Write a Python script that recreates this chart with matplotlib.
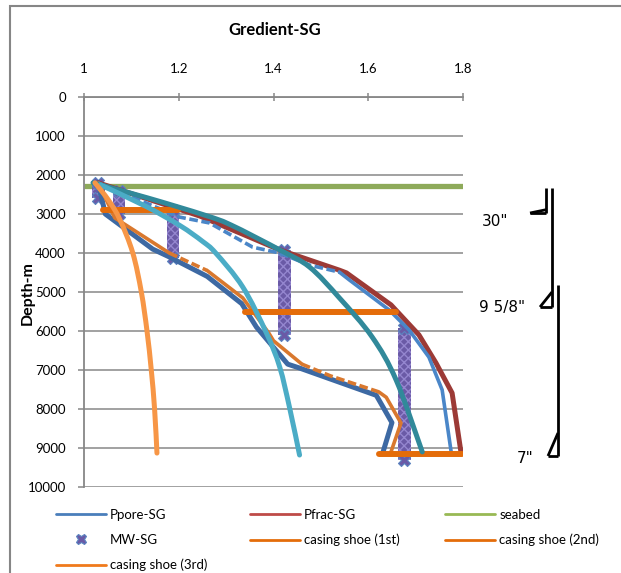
import matplotlib
matplotlib.use("Agg")
import matplotlib.pyplot as plt
from matplotlib.lines import Line2D
from matplotlib.patches import Rectangle, PathPatch
from matplotlib.path import Path

plt.rcParams['font.family'] = ['Lato', 'DejaVu Sans']
plt.rcParams['lines.solid_capstyle'] = 'round'
plt.rcParams['lines.solid_joinstyle'] = 'round'
plt.rcParams['lines.dash_capstyle'] = 'butt'

# ---- axis ticks ----
x_ticks = [1.0, 1.2, 1.4, 1.6, 1.8]
x_tick_labels = ['1', '1.2', '1.4', '1.6', '1.8']
depth_ticks = [0, 1000, 2000, 3000, 4000, 5000, 6000, 7000, 8000, 9000, 10000]

# ---- pore pressure gradient ----
ppore_depth = [2200, 3000, 3900, 4100, 4600, 5300, 5900, 6850, 6950, 7650, 8350, 9150]
ppore_sg = [1.03, 1.045, 1.145, 1.18, 1.26, 1.333, 1.364, 1.43, 1.455, 1.617, 1.65, 1.63]

# pore pressure (second estimate)
ppore2_depth = [2200, 3100, 4000, 4450, 5150, 6050, 6250, 6850, 7150, 7560, 7700, 8360, 9100]
ppore2_sg = [1.03, 1.065, 1.18, 1.26, 1.335, 1.39, 1.40, 1.46, 1.52, 1.622, 1.638, 1.669, 1.648]

# ---- fracture gradient ----
pfrac_depth = [2200, 3050, 3920, 4440, 4510, 5330, 6100, 6820, 7590, 9130]
pfrac_sg = [1.03, 1.244, 1.413, 1.539, 1.554, 1.648, 1.707, 1.743, 1.777, 1.796]

# fracture gradient (second estimate)
pfrac2_depth = [2200, 3080, 3230, 3850, 4000, 4310, 4490, 4690, 5460, 5970, 6670, 7510, 9100]
pfrac2_sg = [1.03, 1.202, 1.265, 1.356, 1.413, 1.476, 1.539, 1.56, 1.644, 1.686, 1.728, 1.756, 1.775]

# smoothed trend curves
teal_depth = [2200, 2590, 3030, 3280, 3920, 4360, 5150, 6150, 7260, 9100]
teal_sg = [1.019, 1.135, 1.255, 1.31, 1.413, 1.476, 1.539, 1.608, 1.659, 1.714]

cyan_depth = [2250, 2800, 3300, 3700, 4000, 4870, 6050, 6920, 7970, 9180]
cyan_sg = [1.034, 1.13, 1.203, 1.25, 1.278, 1.335, 1.385, 1.413, 1.434, 1.455]

lorange_depth = [2200, 2650, 3150, 4000, 5000, 6000, 7000, 8000, 9130]
lorange_sg = [1.023, 1.052, 1.076, 1.103, 1.121, 1.133, 1.142, 1.149, 1.154]

# ---- seabed ----
seabed_depth = 2280
seabed_sg = [1.0, 1.8]

# ---- mud weight intervals ----
mw_sg = [1.03, 1.074, 1.188, 1.423, 1.676]
mw_top = [2200, 2400, 2900, 3920, 5920]
mw_bottom = [2600, 3000, 4130, 6100, 9300]

# ---- casing shoes ----
shoe1_depth, shoe1_sg = 2900, [1.04, 1.198]
shoe2_depth, shoe2_sg = 5500, [1.339, 1.659]
shoe3_depth, shoe3_sg = 9150, [1.623, 1.798]

casing_labels = ['30"', '9 5/8"', '7"']


def smooth_curve(ax, xs, ys, **kw):
    """Draw a Catmull-Rom style smoothed line through the given points."""
    pts = list(zip(xs, ys))
    verts = [pts[0]]
    codes = [Path.MOVETO]
    n = len(pts)
    for i in range(n - 1):
        p0 = pts[i - 1] if i > 0 else pts[i]
        p1 = pts[i]
        p2 = pts[i + 1]
        p3 = pts[i + 2] if i + 2 < n else p2
        c1 = (p1[0] + (p2[0] - p0[0]) / 6.0, p1[1] + (p2[1] - p0[1]) / 6.0)
        c2 = (p2[0] - (p3[0] - p1[0]) / 6.0, p2[1] - (p3[1] - p1[1]) / 6.0)
        verts += [c1, c2, p2]
        codes += [Path.CURVE4] * 3
    patch = PathPatch(Path(verts, codes), fill=False, capstyle='round',
                      joinstyle='round', **kw)
    ax.add_patch(patch)
    return patch


W, H = 621, 573
fig = plt.figure(figsize=(W / 100, H / 100), dpi=100)
ax = fig.add_axes([84 / W, 1 - 487 / H, (463 - 84) / W, (487 - 97) / H])

GRID = '#878787'
ax.set_xlim(1.0, 1.8)
ax.set_ylim(10000, 0)
ax.xaxis.tick_top()
ax.set_xticks(x_ticks)
ax.set_xticklabels(x_tick_labels)
ax.set_yticks(depth_ticks)
ax.set_yticklabels([str(d) for d in depth_ticks])
ax.grid(axis='y', color=GRID, lw=1.1, zorder=0)
ax.set_axisbelow(True)
for s in ['right', 'bottom']:
    ax.spines[s].set_visible(False)
for s in ['top', 'left']:
    ax.spines[s].set_color(GRID)
    ax.spines[s].set_linewidth(1.3)
ax.tick_params(axis='x', direction='inout', length=6, width=1.1, color=GRID,
               labelsize=9.5, pad=13)
ax.tick_params(axis='y', direction='out', length=4, width=1.1, color=GRID,
               labelsize=9.5, pad=9)

# seabed
ax.plot(seabed_sg, [seabed_depth, seabed_depth], color='#8EAA5A', lw=3.8, zorder=1.5,
        solid_capstyle='butt')

# mud weight intervals
bw = 0.027
for sg, t, b in zip(mw_sg, mw_top, mw_bottom):
    ax.bar(sg, b - t, bottom=t, width=bw, color='#6A5AA6', edgecolor='#9486CF',
           hatch='xxxx', linewidth=0, zorder=2)
ax.scatter(mw_sg + mw_sg, mw_top + mw_bottom, marker='X', s=75, color='#6A5AA6',
           edgecolors='#5A84C0', linewidths=0.8, zorder=2.2)

# pore pressure lines
ax.plot(ppore_sg, ppore_depth, color='#3D69A3', lw=3.6, zorder=3)
segs = [(0, 2, '-'), (2, 3, '--'), (3, 7, '-'), (7, 9, '--'), (9, 12, '-')]
for i0, i1, ls in segs:
    kw = dict(dashes=(2.4, 1.0)) if ls == '--' else {}
    ax.plot(ppore2_sg[i0:i1 + 1], ppore2_depth[i0:i1 + 1], color='#D9782E', lw=2.6,
            zorder=3.1, **kw)

# fracture lines
ax.plot(pfrac_sg, pfrac_depth, color='#9C3A36', lw=3.6, zorder=3)
ax.plot(pfrac2_sg[:7], pfrac2_depth[:7], color='#4A86C8', lw=2.6, dashes=(2.4, 1.0), zorder=3.2)
ax.plot(pfrac2_sg[6:], pfrac2_depth[6:], color='#4A86C8', lw=2.6, zorder=3.2)

# casing shoes
for d, sgs in [(shoe1_depth, shoe1_sg), (shoe2_depth, shoe2_sg), (shoe3_depth, shoe3_sg)]:
    ax.plot(sgs, [d, d], color='#E46C0A', lw=4.3, zorder=4)

# smoothed trend curves
smooth_curve(ax, teal_sg, teal_depth, edgecolor='#31899A', lw=3.6, zorder=5)
smooth_curve(ax, cyan_sg, cyan_depth, edgecolor='#4BACC6', lw=3.6, zorder=5.1)
smooth_curve(ax, lorange_sg, lorange_depth, edgecolor='#F79646', lw=3.6, zorder=6)

# casing schematic to the right of the plot (x in axes fraction, y in depth)
tr = ax.get_yaxis_transform()


def px(xp):
    return (xp - 84) / 379.0


sk = dict(color='black', lw=2.0, transform=tr, clip_on=False, solid_capstyle='butt')
ax.plot([px(552), px(552)], [2330, 5385], **sk)
ax.plot([px(546), px(546)], [2330, 2975], **sk)
ax.plot([px(530), px(546)], [2975, 2975], **sk)
ax.plot([px(530), px(546)], [2975, 2890], **sk)
ax.plot([px(540), px(552)], [5385, 5385], **sk)
ax.plot([px(540), px(552)], [5385, 5000], **sk)
ax.plot([px(558), px(558)], [4820, 9205], **sk)
ax.plot([px(548), px(558)], [9205, 9205], **sk)
ax.plot([px(548), px(558)], [9205, 8615], **sk)
for lab, xp, d in zip(casing_labels, [495, 502, 525], [3205, 5410, 9280]):
    ax.text(px(xp), d, lab, transform=tr, ha='center', va='center', fontsize=11,
            family='DejaVu Sans', clip_on=False)

# titles
fig.text(275 / W, 1 - 30 / H, 'Gredient-SG', ha='center', va='center',
         fontsize=12, fontweight='bold')
fig.text(28 / W, 1 - 293 / H, 'Depth-m', ha='center', va='center', rotation=90,
         fontsize=11.5, fontweight='bold')

# legend, three columns
h_ppore = Line2D([], [], color='#4A7EBB', lw=2)
h_pfrac = Line2D([], [], color='#BE4B48', lw=2)
h_seabed = Line2D([], [], color='#98B954', lw=2)
h_mw = Line2D([], [], ls='none', marker='X', markersize=7.5, markerfacecolor='#6A5AA6',
              markeredgecolor='#5A84C0', markeredgewidth=0.8)
h_s1 = Line2D([], [], color='#E46C0A', lw=2)
h_s2 = Line2D([], [], color='#E46C0A', lw=2)
h_s3 = Line2D([], [], color='#F07A1C', lw=2)
cols = [
    (56, [h_ppore, h_mw, h_s3], ['Ppore-SG', 'MW-SG', 'casing shoe (3rd)']),
    (250, [h_pfrac, h_s1], ['Pfrac-SG', 'casing shoe (1st)']),
    (445, [h_seabed, h_s2], ['seabed', 'casing shoe (2nd)']),
]
for x0, hs, ls in cols:
    fig.legend(hs, ls, loc='upper left', bbox_to_anchor=(x0 / W, 1 - 509 / H),
               frameon=False, fontsize=9.5, handlelength=3.8, handletextpad=0.3,
               labelspacing=0.98, borderpad=0, borderaxespad=0)

# outer chart border
fig.add_artist(Rectangle((10 / W, -0.5), 2.0, 1.5 - 6 / H, transform=fig.transFigure,
                         fill=False, edgecolor='#868686', lw=1.5))

fig.savefig('out.png', dpi=100)
